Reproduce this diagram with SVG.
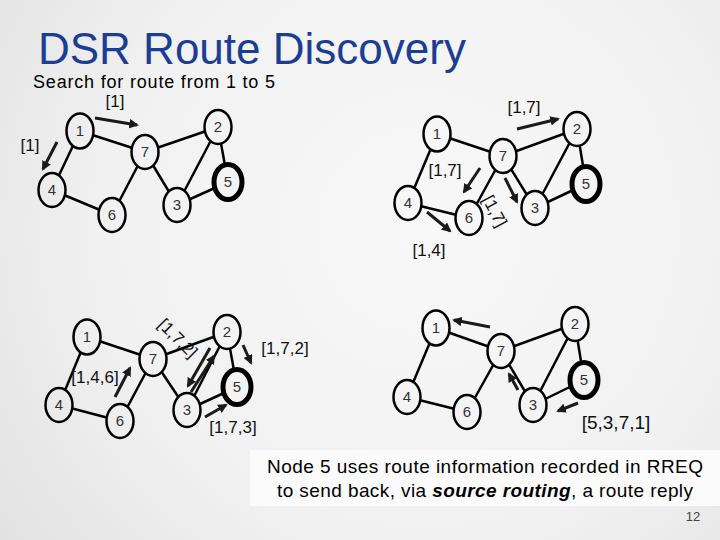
<svg xmlns="http://www.w3.org/2000/svg" width="720" height="540" viewBox="0 0 720 540">
<defs>
<radialGradient id="bg" gradientUnits="userSpaceOnUse" cx="420" cy="230" r="520">
<stop offset="0" stop-color="#f8f8f8"/>
<stop offset="0.6" stop-color="#f1f1f1"/>
<stop offset="1" stop-color="#e2e2e2"/>
</radialGradient>
<marker id="ah" viewBox="0 0 10 10" refX="8" refY="5" markerWidth="3.2" markerHeight="3.2" orient="auto" markerUnits="strokeWidth">
<path d="M0,0 L10,5 L0,10 z" fill="#1a1a1a"/>
</marker>
<style>
.edge{stroke:#000;stroke-width:2.5;fill:none}
.node{fill:url(#bg);stroke:#000;stroke-width:2.5}
.dest{fill:url(#bg);stroke:#000;stroke-width:5}
.num{font-family:'Liberation Sans',Arial,sans-serif;font-size:15px;fill:#333;text-anchor:middle}
.lbl{font-family:'Liberation Sans',Arial,sans-serif;font-size:17px;fill:#111;text-anchor:middle}
.arr{stroke:#1a1a1a;stroke-width:3;fill:none;marker-end:url(#ah)}
</style>
</defs>
<rect width="720" height="540" fill="url(#bg)"/>
<text x="38" y="64" font-family="'Liberation Sans',Arial,sans-serif" font-size="44" fill="#1c3d94">DSR Route Discovery</text>
<text x="33" y="88" font-family="'Liberation Sans',Arial,sans-serif" font-size="18" fill="#000" textLength="242">Search for route from 1 to 5</text>

<!-- Graph A: top-left -->
<g id="connectors-a">
<line class="edge" x1="80" y1="131" x2="145" y2="152"/>
<line class="edge" x1="80" y1="131" x2="52" y2="190"/>
<line class="edge" x1="145" y1="152" x2="218" y2="127"/>
<line class="edge" x1="145" y1="152" x2="112" y2="215"/>
<line class="edge" x1="145" y1="152" x2="177" y2="205"/>
<line class="edge" x1="52" y1="190" x2="112" y2="215"/>
<line class="edge" x1="218" y1="127" x2="177" y2="205"/>
<line class="edge" x1="218" y1="127" x2="228" y2="182"/>
<line class="edge" x1="177" y1="205" x2="228" y2="182"/>
<line class="arr" x1="95" y1="118" x2="137" y2="125"/>
<line class="arr" x1="57" y1="142" x2="43" y2="169"/>
</g>
<g id="a1"><ellipse class="node" cx="80" cy="131" rx="13.5" ry="17.5"/><text class="num" x="80" y="136">1</text></g>
<g id="a7"><ellipse class="node" cx="145" cy="152" rx="13.5" ry="17"/><text class="num" x="145" y="157">7</text></g>
<g id="a2"><ellipse class="node" cx="218" cy="127" rx="13.5" ry="17"/><text class="num" x="218" y="132">2</text></g>
<g id="a5"><ellipse class="dest" cx="228" cy="182" rx="14" ry="17.5"/><text class="num" x="228" y="187">5</text></g>
<g id="a4"><ellipse class="node" cx="52" cy="190" rx="13.5" ry="17"/><text class="num" x="52" y="195">4</text></g>
<g id="a6"><ellipse class="node" cx="112" cy="215" rx="13.5" ry="17"/><text class="num" x="112" y="220">6</text></g>
<g id="a3"><ellipse class="node" cx="177" cy="205" rx="13.5" ry="17"/><text class="num" x="177" y="210">3</text></g>
<text class="lbl" x="115" y="107">[1]</text>
<text class="lbl" x="30" y="151">[1]</text>

<!-- Graph B: top-right -->
<g id="connectors-b">
<line class="edge" x1="437" y1="134" x2="503" y2="156"/>
<line class="edge" x1="437" y1="134" x2="408" y2="203"/>
<line class="edge" x1="503" y1="156" x2="577" y2="129"/>
<line class="edge" x1="503" y1="156" x2="469" y2="218"/>
<line class="edge" x1="503" y1="156" x2="535" y2="208"/>
<line class="edge" x1="408" y1="203" x2="469" y2="218"/>
<line class="edge" x1="577" y1="129" x2="535" y2="208"/>
<line class="edge" x1="577" y1="129" x2="586" y2="184"/>
<line class="edge" x1="535" y1="208" x2="586" y2="184"/>
<line class="arr" x1="517" y1="129" x2="558" y2="119"/>
<line class="arr" x1="480" y1="168" x2="464" y2="192"/>
<line class="arr" x1="505" y1="178" x2="517" y2="202"/>
<line class="arr" x1="427" y1="212" x2="450" y2="231"/>
</g>
<g id="b1"><ellipse class="node" cx="437" cy="134" rx="13.5" ry="17.5"/><text class="num" x="437" y="139">1</text></g>
<g id="b7"><ellipse class="node" cx="503" cy="156" rx="13.5" ry="17"/><text class="num" x="503" y="161">7</text></g>
<g id="b2"><ellipse class="node" cx="577" cy="129" rx="13.5" ry="17"/><text class="num" x="577" y="134">2</text></g>
<g id="b5"><ellipse class="dest" cx="586" cy="184" rx="14" ry="17.5"/><text class="num" x="586" y="189">5</text></g>
<g id="b4"><ellipse class="node" cx="408" cy="203" rx="13.5" ry="17"/><text class="num" x="408" y="208">4</text></g>
<g id="b6"><ellipse class="node" cx="469" cy="218" rx="13.5" ry="17"/><text class="num" x="469" y="223">6</text></g>
<g id="b3"><ellipse class="node" cx="535" cy="208" rx="13.5" ry="17"/><text class="num" x="535" y="213">3</text></g>
<text class="lbl" x="524" y="113">[1,7]</text>
<text class="lbl" x="445" y="176">[1,7]</text>
<text class="lbl" transform="translate(495,211) rotate(62)" x="0" y="6">[1,7]</text>
<text class="lbl" x="429" y="256">[1,4]</text>

<!-- Graph C: bottom-left -->
<g id="connectors-c">
<line class="edge" x1="87" y1="337" x2="153" y2="359"/>
<line class="edge" x1="87" y1="337" x2="59" y2="405"/>
<line class="edge" x1="153" y1="359" x2="227" y2="332"/>
<line class="edge" x1="153" y1="359" x2="120" y2="421"/>
<line class="edge" x1="153" y1="359" x2="187" y2="410"/>
<line class="edge" x1="59" y1="405" x2="120" y2="421"/>
<line class="edge" x1="227" y1="332" x2="187" y2="410"/>
<line class="edge" x1="227" y1="332" x2="237" y2="387"/>
<line class="edge" x1="187" y1="410" x2="237" y2="387"/>
<line class="arr" x1="115" y1="397" x2="130" y2="368"/>
<line class="arr" x1="210" y1="348" x2="188" y2="386"/>
<line class="arr" x1="191" y1="392" x2="214" y2="356"/>
<line class="arr" x1="243" y1="345" x2="251" y2="363"/>
<line class="arr" x1="205" y1="417" x2="226" y2="405"/>
</g>
<g id="c1"><ellipse class="node" cx="87" cy="337" rx="13.5" ry="17.5"/><text class="num" x="87" y="342">1</text></g>
<g id="c7"><ellipse class="node" cx="153" cy="359" rx="13.5" ry="17"/><text class="num" x="153" y="364">7</text></g>
<g id="c2"><ellipse class="node" cx="227" cy="332" rx="13.5" ry="17"/><text class="num" x="227" y="337">2</text></g>
<g id="c5"><ellipse class="dest" cx="237" cy="387" rx="14" ry="17.5"/><text class="num" x="237" y="392">5</text></g>
<g id="c4"><ellipse class="node" cx="59" cy="405" rx="13.5" ry="17"/><text class="num" x="59" y="410">4</text></g>
<g id="c6"><ellipse class="node" cx="120" cy="421" rx="13.5" ry="17"/><text class="num" x="120" y="426">6</text></g>
<g id="c3"><ellipse class="node" cx="187" cy="410" rx="13.5" ry="17"/><text class="num" x="187" y="415">3</text></g>
<text class="lbl" x="95" y="383">[1,4,6]</text>
<text class="lbl" transform="translate(178,338) rotate(45)" x="0" y="6">[1,7,2]</text>
<text class="lbl" x="285" y="354">[1,7,2]</text>
<text class="lbl" x="233" y="433">[1,7,3]</text>

<!-- Graph D: bottom-right -->
<g id="connectors-d">
<line class="edge" x1="436" y1="328" x2="501" y2="351"/>
<line class="edge" x1="436" y1="328" x2="407" y2="397"/>
<line class="edge" x1="501" y1="351" x2="575" y2="324"/>
<line class="edge" x1="501" y1="351" x2="467" y2="412"/>
<line class="edge" x1="501" y1="351" x2="533" y2="405"/>
<line class="edge" x1="407" y1="397" x2="467" y2="412"/>
<line class="edge" x1="575" y1="324" x2="533" y2="405"/>
<line class="edge" x1="575" y1="324" x2="584" y2="380"/>
<line class="edge" x1="533" y1="405" x2="584" y2="380"/>
<line class="arr" x1="490" y1="327" x2="454" y2="320"/>
<line class="arr" x1="518" y1="390" x2="509" y2="374"/>
<line class="arr" x1="578" y1="403" x2="558" y2="411"/>
</g>
<g id="d1"><ellipse class="node" cx="436" cy="328" rx="13.5" ry="17.5"/><text class="num" x="436" y="333">1</text></g>
<g id="d7"><ellipse class="node" cx="501" cy="351" rx="13.5" ry="17"/><text class="num" x="501" y="356">7</text></g>
<g id="d2"><ellipse class="node" cx="575" cy="324" rx="13.5" ry="17"/><text class="num" x="575" y="329">2</text></g>
<g id="d5"><ellipse class="dest" cx="584" cy="380" rx="14" ry="17.5"/><text class="num" x="584" y="385">5</text></g>
<g id="d4"><ellipse class="node" cx="407" cy="397" rx="13.5" ry="17"/><text class="num" x="407" y="402">4</text></g>
<g id="d6"><ellipse class="node" cx="467" cy="412" rx="13.5" ry="17"/><text class="num" x="467" y="417">6</text></g>
<g id="d3"><ellipse class="node" cx="533" cy="405" rx="13.5" ry="17"/><text class="num" x="533" y="410">3</text></g>
<text class="lbl" x="616" y="429" style="font-size:19px">[5,3,7,1]</text>

<rect x="250" y="450" width="470" height="56" fill="#fbfbfb"/>
<g font-family="'Liberation Sans',Arial,sans-serif" font-size="19" fill="#000" text-anchor="middle">
<text x="485" y="473" textLength="436">Node 5 uses route information recorded in RREQ</text>
<text x="485" y="497" textLength="416">to send back, via <tspan font-weight="bold" font-style="italic">source routing</tspan>, a route reply</text>
</g>
<text x="693" y="521" font-family="'Liberation Sans',Arial,sans-serif" font-size="13" fill="#444" text-anchor="middle">12</text>
</svg>
